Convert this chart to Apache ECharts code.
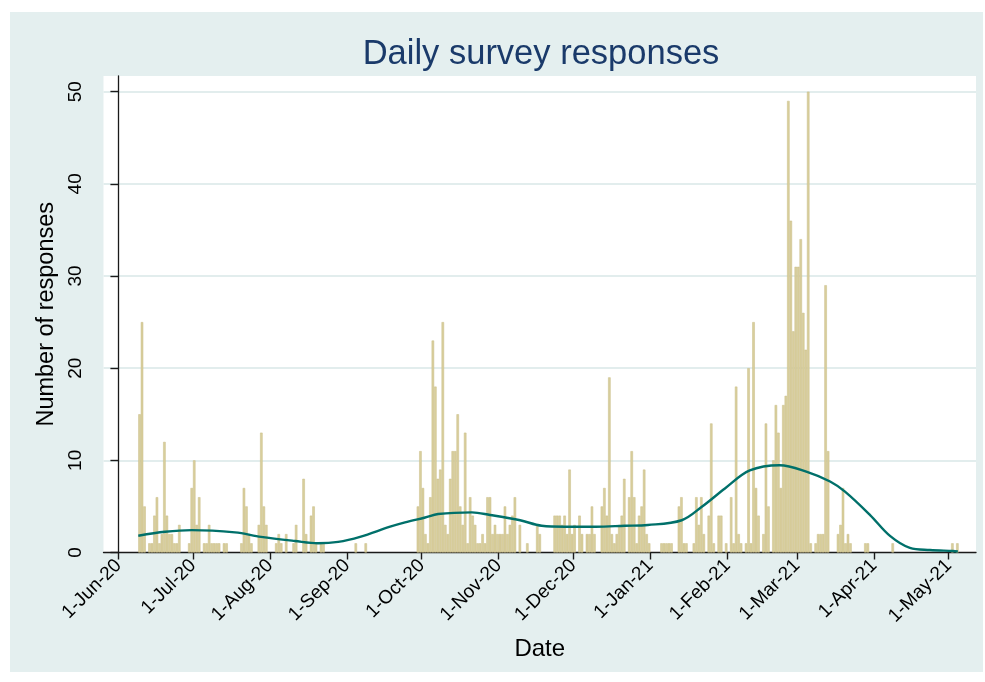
<!DOCTYPE html>
<html>
<head>
<meta charset="utf-8">
<script src="https://cdn.jsdelivr.net/npm/echarts@6.0.0/dist/echarts.min.js"></script>
<style>
  html, body { margin: 0; padding: 0; background: #ffffff; }
  #panel { position: absolute; left: 10px; top: 12px; width: 973px; height: 660px; background: #e4efef; }
  #chart { position: absolute; left: 0; top: 0; width: 985px; height: 682px; }
</style>
</head>
<body>
<div id="panel"></div>
<div id="chart"></div>
<script>
// Month-start ticks on the date axis
const tickDates = ['2020-06-01', '2020-07-01', '2020-08-01', '2020-09-01', '2020-10-01', '2020-11-01',
                   '2020-12-01', '2021-01-01', '2021-02-01', '2021-03-01', '2021-04-01', '2021-05-01'];
const tickLabels = ['1-Jun-20', '1-Jul-20', '1-Aug-20', '1-Sep-20', '1-Oct-20', '1-Nov-20',
                    '1-Dec-20', '1-Jan-21', '1-Feb-21', '1-Mar-21', '1-Apr-21', '1-May-21'];
const yTicks = [0, 10, 20, 30, 40, 50];

// Daily number of responses, one array per month (index 0 = 1st of the month)
const jun20 = [0,0,0,0,0,0,0,0,15,25,5,0,1,1,4,6,1,2,12,4,2,2,1,1,3,0,0,0,1,7];
const jul20 = [10,3,6,0,1,1,3,1,1,1,1,0,1,1,0,0,0,0,0,1,7,5,2,1,0,0,3,13,5,3,0];
const aug20 = [0,0,1,2,1,0,2,0,0,1,3,0,0,8,2,0,4,5,1,0,1,1,0,0,0,0,0,0,0,0,0];
const sep20 = [0,0,0,1,0,0,0,1,0,0,0,0,0,0,0,0,0,0,0,0,0,0,0,0,0,0,0,0,5,11];
const oct20 = [7,2,1,6,23,18,8,9,25,3,2,8,11,11,15,5,3,13,1,6,4,3,1,1,2,1,6,6,2,3,2];
const nov20 = [2,2,5,2,3,4,6,0,3,0,0,1,0,0,0,3,2,0,0,0,0,0,4,4,4,3,4,2,9,2];
const dec20 = [3,0,4,2,0,2,2,5,2,0,0,5,7,4,19,2,1,2,3,4,8,0,6,11,6,1,4,5,9,2,1];
const jan21 = [0,0,0,0,1,1,1,1,1,0,0,5,6,1,1,0,0,1,6,3,6,2,0,4,14,1,0,4,4,0,1];
const feb21 = [0,6,1,18,2,1,0,1,20,1,25,7,4,0,2,14,5,0,10,16,13,7,16,17,49,36,24,31];
const mar21 = [31,34,26,22,50,1,0,1,2,2,2,29,11,0,0,0,2,3,7,1,2,1,0,0,0,0,0,1,1,0,0];
const apr21 = [0,0,0,0,0,0,0,1,0,0,0,0,0,0,0,0,0,0,0,0,0,0,0,0,0,0,0,0,0,0];
const may21 = [0,1,0,1];

// Smoothed trend: days since 1 Jun 2020 and fitted number of responses
const trendDay   = [8.0, 18.8, 29.5, 46.9, 57.4, 71, 80.3, 88.4, 97.2, 109.3, 115.3, 123.4, 128.6, 142.2,
                    149.5, 161.6, 170.3, 179.7, 192, 203.8, 213, 226.6, 234.7, 244, 254, 266, 277,
                    286.3, 292.3, 302.4, 310.4, 318.4, 326.5, 335.7, 337.7];
const trendValue = [1.82, 2.25, 2.43, 2.18, 1.7, 1.25, 1.0, 1.15, 1.7, 2.8, 3.27, 3.8, 4.17, 4.35,
                    4.07, 3.5, 2.9, 2.8, 2.8, 2.9, 2.98, 3.5, 4.96, 6.95, 8.9, 9.47, 8.75,
                    7.7, 6.6, 4.06, 1.8, 0.5, 0.27, 0.16, 0.12];

const monthBlocks = [
  ['2020-06-01', jun20], ['2020-07-01', jul20], ['2020-08-01', aug20], ['2020-09-01', sep20],
  ['2020-10-01', oct20], ['2020-11-01', nov20], ['2020-12-01', dec20], ['2021-01-01', jan21],
  ['2021-02-01', feb21], ['2021-03-01', mar21], ['2021-04-01', apr21], ['2021-05-01', may21]
];

const origin = Date.UTC(2020, 5, 1);
function dayOffset(s) {
  const [y, m, d] = s.split('-').map(Number);
  return Math.round((Date.UTC(y, m - 1, d) - origin) / 864e5);
}

// Each daily bar spans its whole day, so it is centred at noon
const barData = [];
monthBlocks.forEach(([start, counts]) => {
  const base = dayOffset(start);
  counts.forEach((c, i) => { if (c > 0) barData.push([base + i + 0.5, c]); });
});

const tickPos = tickDates.map(dayOffset);
const labelAt = {};
tickPos.forEach((p, i) => { labelAt[p] = tickLabels[i]; });

const FONT = "'Liberation Sans', Arial, sans-serif";
const chart = echarts.init(document.getElementById('chart'), null, { renderer: 'canvas' });

chart.setOption({
  backgroundColor: 'transparent',
  animation: false,
  textStyle: { fontFamily: FONT },
  graphic: [{
    type: 'text',
    x: 541, y: 54,
    style: {
      text: 'Daily survey responses',
      font: "34.5px 'Liberation Sans', Arial, sans-serif",
      fill: '#1a3a6a',
      align: 'center',
      verticalAlign: 'middle'
    }
  }],
  grid: {
    left: 103.5, right: 9, top: 76, bottom: 129.5,
    show: true, backgroundColor: '#ffffff', borderWidth: 0
  },
  xAxis: {
    type: 'value',
    min: -6, max: 345,
    name: 'Date',
    nameLocation: 'middle',
    nameGap: 85,
    nameTextStyle: { fontSize: 24, color: '#000', fontFamily: FONT },
    axisLine: { show: true, onZero: false, lineStyle: { color: '#1a1a1a', width: 1.3 } },
    axisTick: { show: true, length: 7, lineStyle: { color: '#1a1a1a', width: 1.4 }, customValues: tickPos },
    axisLabel: {
      rotate: 45, margin: 10, fontSize: 19, color: '#000', fontFamily: FONT,
      customValues: tickPos,
      formatter: v => labelAt[Math.round(v)] || ''
    },
    splitLine: { show: false }
  },
  yAxis: {
    type: 'value',
    min: 0, max: 51.7,
    name: 'Number of responses',
    nameLocation: 'middle',
    nameRotate: 90,
    nameGap: 37,
    nameTextStyle: { fontSize: 23.5, color: '#000', fontFamily: FONT },
    axisLine: { show: true, lineStyle: { color: '#1a1a1a', width: 1.3 } },
    axisTick: { show: true, length: 8, lineStyle: { color: '#1a1a1a', width: 1.4 }, customValues: yTicks },
    axisLabel: {
      rotate: 90, margin: 18, fontSize: 19, color: '#000', fontFamily: FONT,
      customValues: yTicks
    },
    splitLine: { show: true, lineStyle: { color: '#e2eded', width: 2 } }
  },
  series: [
    {
      type: 'bar',
      name: 'Responses',
      data: barData,
      barWidth: 2.49,
      itemStyle: { color: '#d9cf9d', borderColor: '#c9bd86', borderWidth: 0.5 },
      z: 2
    },
    {
      type: 'line',
      name: 'Trend',
      data: trendDay.map((d, i) => [d, trendValue[i]]),
      smooth: 0.35,
      symbol: 'none',
      lineStyle: { color: '#00706a', width: 2.4 },
      z: 3
    }
  ]
});
</script>
</body>
</html>
